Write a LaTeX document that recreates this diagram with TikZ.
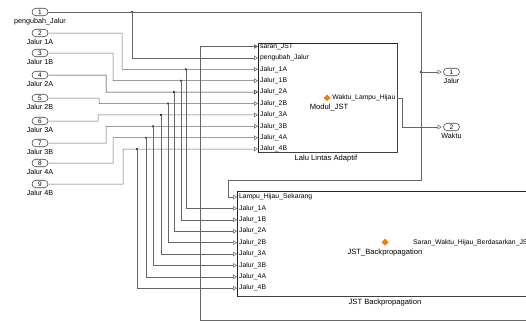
\documentclass[tikz,border=0pt]{standalone}
\usepackage{fontspec}
\setmainfont{Liberation Sans}
\usetikzlibrary{shapes.misc,arrows.meta}
\begin{document}
\begin{tikzpicture}[x=1pt,y=-1pt,
 wire/.style={draw=black!60,line width=0.5pt},
 inport/.style={rounded rectangle,draw=black!75,line width=0.55pt,minimum width=16pt,minimum height=7.5pt,inner sep=0pt,font=\fontsize{6.5}{6.5}\selectfont},
 iolbl/.style={font=\fontsize{7.2}{7.2}\selectfont,inner sep=0pt,anchor=north,yshift=-2.5pt},
 plbl/.style={font=\fontsize{6.8}{6.8}\selectfont,inner sep=0pt,anchor=west},
 captxt/.style={font=\fontsize{7.6}{7.6}\selectfont,inner sep=0pt},
 block/.style={draw=black!85,line width=0.7pt,inner sep=0pt},
 ptip/.style={-{Triangle[open,length=4pt,width=4.5pt]}},
 ftip/.style={-{Triangle[length=4pt,width=4.5pt]}},
 jdot/.style={circle,fill=black,inner sep=0pt,minimum size=2.4pt},
]
\useasboundingbox (0,0) rectangle (526,322);
\clip (0,0) rectangle (526,322);
\fill[white] (0,0) rectangle (526,322);

% ---- input ports ----
\foreach \n/\y/\t in {1/12/pengubah\_Jalur,2/33/Jalur 1A,3/53/Jalur 1B,4/75/Jalur 2A,5/98/Jalur 2B,6/121/Jalur 3A,7/143/Jalur 3B,8/163/Jalur 4A,9/184/Jalur 4B}{
  \node[inport] (i\n) at (40,\y) {\n};
  \node[iolbl] (il\n) at (i\n.south) {\t};
}

% ---- Modul_JST block ----
\node[block,minimum width=139pt,minimum height=109pt] (modul) at (327.5,97.5) {};
\draw[black!75,line width=1.1pt] (397.9,44) -- (397.9,152.9) -- (259,152.9);
\node[captxt] (modcap) at (326,158.5) {Lalu Lintas Adaptif};
\node[captxt] (modname) at (329,107) {Modul\_JST};
\fill[orange!75!brown] (327,94.5) -- (330.5,98) -- (327,101) -- (323.5,98) -- cycle;
\foreach \k/\t in {0/saran\_JST,1/pengubah\_Jalur,2/Jalur\_1A,3/Jalur\_1B,4/Jalur\_2A,5/Jalur\_2B,6/Jalur\_3A,7/Jalur\_3B,8/Jalur\_4A,9/Jalur\_4B}{
  \coordinate (mp\k) at (258,46.5+11.4*\k);
  \node[plbl] (ml\k) at (260,46.5+11.4*\k) {\t};
}
\coordinate (mout) at (397,98);
\node[plbl,anchor=east] (moutl) at (395.5,98) {Waktu\_Lampu\_Hijau};

% ---- JST_Backpropagation block ----
\node[block,line width=0.9pt,minimum width=323pt,minimum height=105pt] (jst) at (398.5,243.5) {};
\draw[black!75,line width=1.1pt] (238,296.9) -- (560,296.9);
\node[captxt] (jstcap) at (385,302.5) {JST Backpropagation};
\node[captxt] (jstname) at (385,253) {JST\_Backpropagation};
\fill[orange!75!brown] (385,238.5) -- (388.5,242.5) -- (385,245.5) -- (381.5,242.5) -- cycle;
\foreach \k/\t in {0/Lampu\_Hijau\_Sekarang,1/Jalur\_1A,2/Jalur\_1B,3/Jalur\_2A,4/Jalur\_2B,5/Jalur\_3A,6/Jalur\_3B,7/Jalur\_4A,8/Jalur\_4B}{
  \coordinate (jp\k) at (237,197+11.4*\k);
  \node[plbl] (jl\k) at (239,197+11.4*\k) {\t};
}
\coordinate (jout) at (560,243);
\node[plbl] (joutl) at (413,243) {Saran\_Waktu\_Hijau\_Berdasarkan\_JST};

% ---- output ports ----
\node[inport] (oJ) at (451.5,72) {1};
\node[iolbl] (oJl) at (oJ.south) {Jalur};
\node[inport] (oW) at (451.5,127) {2};
\node[iolbl] (oWl) at (oW.south) {Waktu};

% ---- junctions ----
\node[jdot] (j1) at (132,12) {};
\node[jdot] (jJ) at (421,72) {};
\foreach \n/\x/\y in {2/186/69.3,3/181/80.7,4/174/92.1,5/168/103.5,6/161/114.9,7/153/126.3,8/146/137.7,9/137/149.1}{
  \node[jdot] (j\n) at (\x,\y) {};
}

% ---- wires ----
\draw[wire,ptip] (i1.east) -| (421,180) -| (228,197) -- (jp0);
\draw[wire,ptip] (j1.center) |- (mp1);
\draw[wire,ptip,shorten >=1.5pt] (jJ.center) -- (oJ.west);
\draw[wire,ptip] (i2.east) -| (122,69.3) -- (mp2);
\draw[wire,ptip] (i3.east) -| (113,80.7) -- (mp3);
\draw[wire,draw=black!85,ptip] (i4.east) -| (106,92.1) -- (mp4);
\draw[wire,ptip] (i5.east) -| (99,103.5) -- (mp5);
\draw[wire,ptip] (i6.east) -| (98,114.9) -- (mp6);
\draw[wire,ptip] (i7.east) -| (106,126.3) -- (mp7);
\draw[wire,ptip] (i8.east) -| (113,137.7) -- (mp8);
\draw[wire,ptip] (i9.east) -| (123,149.1) -- (mp9);
\foreach \n/\k in {2/1,3/2,4/3,5/4,6/5,7/6,8/7,9/8}{
  \draw[wire,ptip] (j\n.center) |- (jp\k);
}
\draw[wire,ptip,shorten >=1.5pt] (mout) -- (402,98) |- (oW.west);
\draw[wire,ftip] (jout) -| (566,320) -| (200,46.5) -- (mp0);
\end{tikzpicture}
\end{document}
